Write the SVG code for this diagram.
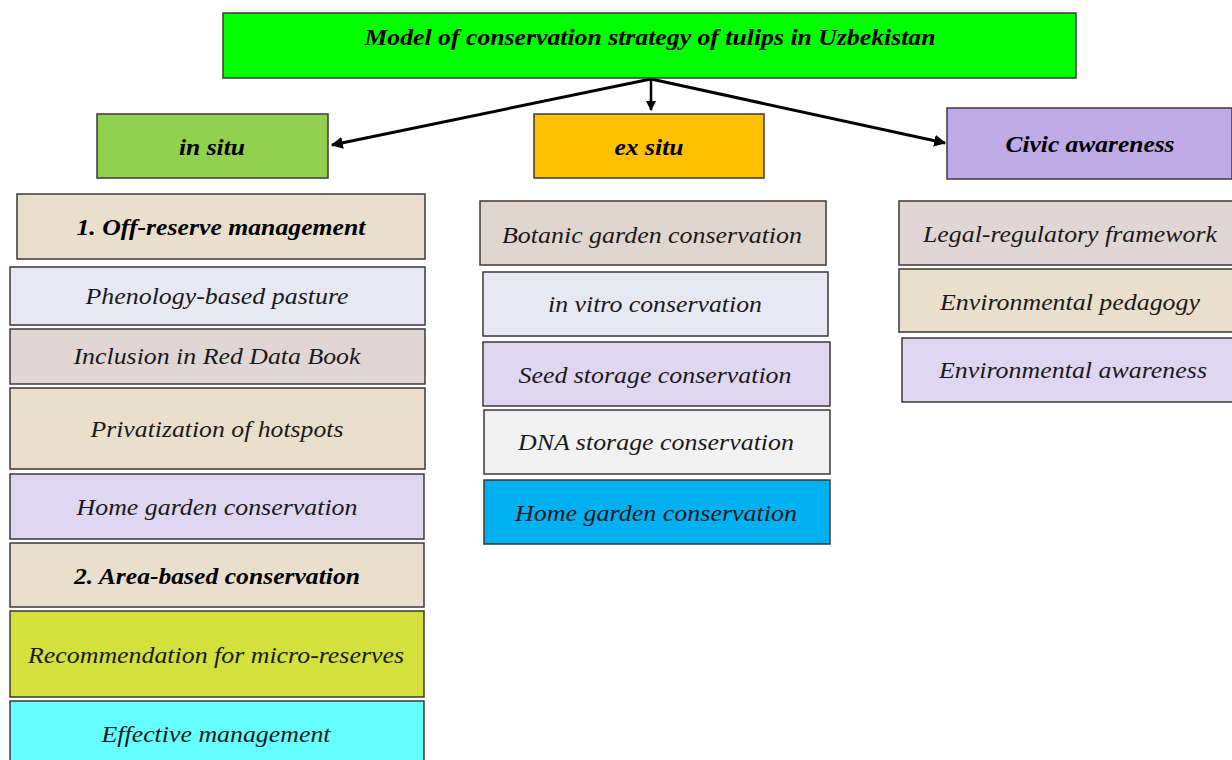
<svg xmlns="http://www.w3.org/2000/svg" width="1232" height="760" viewBox="0 0 1232 760">
<defs>
<style>
.b{stroke:#3a3a3a;stroke-width:1.5}
.t{font-family:"Liberation Serif",serif;font-style:italic;font-size:23px;fill:#1a1a1a;text-anchor:middle}
.h{font-family:"Liberation Serif",serif;font-style:italic;font-weight:bold;font-size:23px;fill:#000;text-anchor:middle}
.c{stroke:#000;stroke-width:3;fill:none}
</style>
<marker id="ah" viewBox="0 0 10 10" refX="9" refY="5" markerWidth="4" markerHeight="4" orient="auto" markerUnits="strokeWidth">
<path d="M0,0 L10,5 L0,10 z" fill="#000"/>
</marker>
</defs>
<rect width="1232" height="760" fill="#fff"/>
<g id="connectors">
<line class="c" x1="651" y1="79" x2="332" y2="145" marker-end="url(#ah)"/>
<line class="c" x1="651" y1="79" x2="651" y2="110" marker-end="url(#ah)" style="stroke-width:2.5"/>
<line class="c" x1="651" y1="79" x2="945" y2="143" marker-end="url(#ah)"/>
</g>
<g id="title"><rect class="b" x="223" y="13" width="853" height="65" fill="#00FF00"/><text class="h" x="650" y="45" textLength="571" lengthAdjust="spacingAndGlyphs">Model of conservation strategy of tulips in Uzbekistan</text></g>
<g id="insitu"><rect class="b" x="97" y="114" width="231" height="64" fill="#92D050"/><text class="h" x="212" y="155" textLength="66" lengthAdjust="spacingAndGlyphs">in situ</text></g>
<g id="exsitu"><rect class="b" x="534" y="114" width="230" height="64" fill="#FFC000"/><text class="h" x="649" y="155" textLength="69" lengthAdjust="spacingAndGlyphs">ex situ</text></g>
<g id="civic"><rect class="b" x="947" y="108" width="285" height="71" fill="#BFAAE8"/><text class="h" x="1090" y="152" textLength="169" lengthAdjust="spacingAndGlyphs">Civic awareness</text></g>

<g id="offreserve"><rect class="b" x="17" y="194" width="408" height="65" fill="#EADFCC"/><text class="h" x="221" y="235" textLength="289" lengthAdjust="spacingAndGlyphs">1. Off-reserve management</text></g>
<g id="phenology"><rect class="b" x="10" y="267" width="415" height="58" fill="#E8E8F4"/><text class="t" x="217" y="304" textLength="263" lengthAdjust="spacingAndGlyphs">Phenology-based pasture</text></g>
<g id="reddata"><rect class="b" x="10" y="329" width="415" height="55" fill="#E0D6D6"/><text class="t" x="217" y="364" textLength="287" lengthAdjust="spacingAndGlyphs">Inclusion in Red Data Book</text></g>
<g id="privatization"><rect class="b" x="10" y="388" width="415" height="81" fill="#EADFCC"/><text class="t" x="217" y="437" textLength="253" lengthAdjust="spacingAndGlyphs">Privatization of hotspots</text></g>
<g id="homegarden1"><rect class="b" x="10" y="474" width="414" height="65" fill="#DFD6F2"/><text class="t" x="217" y="515" textLength="281" lengthAdjust="spacingAndGlyphs">Home garden conservation</text></g>
<g id="areabased"><rect class="b" x="10" y="543" width="414" height="64" fill="#EADFCC"/><text class="h" x="217" y="584" textLength="286" lengthAdjust="spacingAndGlyphs">2. Area-based conservation</text></g>
<g id="microreserves"><rect class="b" x="10" y="611" width="414" height="86" fill="#D4E03C"/><text class="t" x="216" y="663" textLength="376" lengthAdjust="spacingAndGlyphs">Recommendation for micro-reserves</text></g>
<g id="effective"><rect class="b" x="10" y="701" width="414" height="65" fill="#66FFFF"/><text class="t" x="216" y="742" textLength="229" lengthAdjust="spacingAndGlyphs">Effective management</text></g>

<g id="botanic"><rect class="b" x="480" y="201" width="346" height="64" fill="#E0D6CD"/><text class="t" x="652" y="243" textLength="300" lengthAdjust="spacingAndGlyphs">Botanic garden conservation</text></g>
<g id="invitro"><rect class="b" x="483" y="272" width="345" height="64" fill="#E8E8F4"/><text class="t" x="655" y="312" textLength="214" lengthAdjust="spacingAndGlyphs">in vitro conservation</text></g>
<g id="seed"><rect class="b" x="483" y="342" width="347" height="64" fill="#DFD6F2"/><text class="t" x="655" y="383" textLength="273" lengthAdjust="spacingAndGlyphs">Seed storage conservation</text></g>
<g id="dna"><rect class="b" x="484" y="410" width="346" height="64" fill="#F2F2F2"/><text class="t" x="656" y="450" textLength="276" lengthAdjust="spacingAndGlyphs">DNA storage conservation</text></g>
<g id="homegarden2"><rect class="b" x="484" y="480" width="346" height="64" fill="#00B0F0"/><text class="t" x="656" y="521" textLength="282" lengthAdjust="spacingAndGlyphs">Home garden conservation</text></g>

<g id="legal"><rect class="b" x="899" y="201" width="340" height="64" fill="#E0D6D6"/><text class="t" x="1070" y="242" textLength="294" lengthAdjust="spacingAndGlyphs">Legal-regulatory framework</text></g>
<g id="pedagogy"><rect class="b" x="899" y="269" width="340" height="63" fill="#EADFCC"/><text class="t" x="1070" y="310" textLength="260" lengthAdjust="spacingAndGlyphs">Environmental pedagogy</text></g>
<g id="envawareness"><rect class="b" x="902" y="338" width="337" height="64" fill="#DFD6F2"/><text class="t" x="1073" y="378" textLength="268" lengthAdjust="spacingAndGlyphs">Environmental awareness</text></g>
</svg>
